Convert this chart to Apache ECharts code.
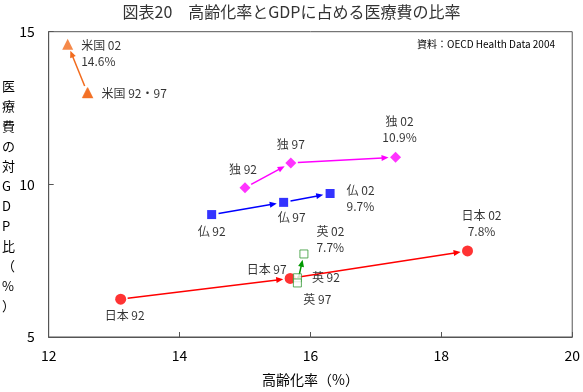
<!DOCTYPE html>
<html><head><meta charset="utf-8">
<script src="https://cdn.jsdelivr.net/npm/echarts@6/dist/echarts.min.js"></script>
<style>html,body{margin:0;padding:0;background:#fff}#c{width:583px;height:392px}</style>
</head><body><div id="c"></div>
<script>
// ---- data ----
const titleText = '図表20　高齢化率とGDPに占める医療費の比率';
const xName = '高齢化率（%）';
const yName = '医療費の対GDP比（%）';
const noteText = '資料：OECD Health Data 2004';
const xTicks = [12, 14, 16, 18, 20];
const yTicks = [5, 10, 15];
const years = ['92', '97', '02'];

const japanX = [13.10, 15.69, 18.40];
const japanY = [6.24, 6.92, 7.82];
const usX = [12.60, 12.59, 12.29];
const usY = [13.00, 13.01, 14.59];
const franceX = [14.49, 15.59, 16.30];
const franceY = [9.01, 9.41, 9.70];
const germanyX = [15.00, 15.70, 17.30];
const germanyY = [9.89, 10.70, 10.89];
const ukX = [15.80, 15.80, 15.90];
const ukY = [6.94, 6.77, 7.72];

const japanLabels = ['日本 92', '日本 97', '日本 02\n7.8%'];
const usLabels = ['米国 92・97', '', '米国 02\n14.6%'];
const franceLabels = ['仏 92', '仏 97', '仏 02\n9.7%'];
const germanyLabels = ['独 92', '独 97', '独 02\n10.9%'];
const ukLabels = ['英 92', '英 97', '英 02\n7.7%'];

// ---- helpers ----
function arrowSeries(xs, ys, color, gapStart, gapEnd) {
  const data = [];
  for (let i = 0; i < xs.length - 1; i++) data.push([xs[i], ys[i], xs[i + 1], ys[i + 1]]);
  return {
    type: 'custom', data, silent: true, z: 2,
    encode: { x: [0, 2], y: [1, 3] },
    renderItem(params, api) {
      const p1 = api.coord([api.value(0), api.value(1)]);
      const p2 = api.coord([api.value(2), api.value(3)]);
      const dx = p2[0] - p1[0], dy = p2[1] - p1[1];
      const len = Math.hypot(dx, dy);
      if (len < gapStart + gapEnd + 6) return { type: 'group', children: [] };
      const ux = dx / len, uy = dy / len;
      const s = [p1[0] + ux * gapStart, p1[1] + uy * gapStart];
      const e = [p2[0] - ux * gapEnd, p2[1] - uy * gapEnd];
      const L = 7, W = 3;
      const b = [e[0] - ux * L, e[1] - uy * L];
      return {
        type: 'group', children: [
          { type: 'line', shape: { x1: s[0], y1: s[1], x2: b[0] + ux, y2: b[1] + uy }, style: { stroke: color, lineWidth: 1.5 } },
          { type: 'polygon', shape: { points: [e, [b[0] - uy * W, b[1] + ux * W], [b[0] + uy * W, b[1] - ux * W]] }, style: { fill: color } }
        ]
      };
    }
  };
}

function pointSeries(xs, ys, texts, labelCfg, sym) {
  const data = xs.map((x, i) => ({
    value: [x, ys[i]],
    label: Object.assign({ show: texts[i] !== '', formatter: texts[i] }, labelCfg[i])
  }));
  return {
    type: 'scatter', data, z: 5,
    symbol: sym.symbol, symbolSize: sym.size,
    itemStyle: sym.itemStyle,
    label: { color: '#000', fontSize: 12, lineHeight: 16, fontFamily: '"Noto Sans CJK JP", sans-serif' }
  };
}

const series = [
  arrowSeries(japanX, japanY, '#ff0000', 7, 7),
  arrowSeries(usX, usY, '#f26b1d', 7, 7),
  arrowSeries(franceX, franceY, '#0000ff', 7, 7),
  arrowSeries(germanyX, germanyY, '#ff00ff', 7, 7),
  arrowSeries(ukX, ukY, '#009900', 5, 6),
  pointSeries(japanX, japanY, japanLabels, [
    { position: 'bottom', distance: 3, offset: [4, 0] },
    { position: 'left', distance: 0, offset: [2, -9] },
    { position: 'top', distance: 6, offset: [14, 0] }
  ], { symbol: 'circle', size: 11, itemStyle: { color: '#ff0000' } }),
  pointSeries(usX, usY, usLabels, [
    { position: 'right', distance: 8, offset: [0, 1] },
    {},
    { position: 'right', distance: 8, offset: [0, 9] }
  ], { symbol: 'triangle', size: 11, itemStyle: { color: '#f26b1d' } }),
  pointSeries(franceX, franceY, franceLabels, [
    { position: 'bottom', distance: 4, offset: [0, 0] },
    { position: 'bottom', distance: 3, offset: [8, 0] },
    { position: 'right', distance: 12, offset: [0, 5] }
  ], { symbol: 'rect', size: 9, itemStyle: { color: '#0000ff' } }),
  pointSeries(germanyX, germanyY, germanyLabels, [
    { position: 'top', distance: 5, offset: [-2, 0] },
    { position: 'top', distance: 5, offset: [0, 0] },
    { position: 'top', distance: 6, offset: [4, 0] }
  ], { symbol: 'diamond', size: 11, itemStyle: { color: '#ff00ff' } }),
  pointSeries(ukX, ukY, ukLabels, [
    { position: 'right', distance: 10, offset: [0, 0] },
    { position: 'bottom', distance: 4, offset: [20, 0] },
    { position: 'right', distance: 8, offset: [0, -15] }
  ], { symbol: 'rect', size: 8, itemStyle: { color: '#ffffff', borderColor: '#339933', borderWidth: 1 } })
];

const chart = echarts.init(document.getElementById('c'), null, { renderer: 'canvas' });
chart.setOption({
  animation: false,
  backgroundColor: '#fff',
  textStyle: { fontFamily: '"Noto Sans CJK JP", sans-serif' },
  title: {
    text: titleText, left: 'center', top: -1,
    textStyle: { fontSize: 16, fontWeight: 'normal', color: '#333' }
  },
  grid: { left: 48.7, right: 9.5, top: 31.7, bottom: 50.3, show: true, borderColor: '#555', borderWidth: 1, backgroundColor: 'transparent' },
  xAxis: {
    type: 'value', min: xTicks[0], max: xTicks[xTicks.length - 1], interval: xTicks[1] - xTicks[0],
    name: xName, nameLocation: 'middle', nameGap: 36,
    nameTextStyle: { fontSize: 14, color: '#000' },
    axisLine: { show: true, lineStyle: { color: '#555' } },
    axisTick: { show: true, inside: true, length: 5, lineStyle: { color: '#555' } },
    axisLabel: { fontSize: 14, color: '#000', margin: 12 },
    splitLine: { show: false }
  },
  yAxis: {
    type: 'value', min: yTicks[0], max: yTicks[yTicks.length - 1], interval: yTicks[1] - yTicks[0],
    axisLine: { show: true, lineStyle: { color: '#555' } },
    axisTick: { show: true, inside: true, length: 5, lineStyle: { color: '#555' } },
    axisLabel: { fontSize: 14, color: '#000', margin: 14 },
    splitLine: { show: false }
  },
  graphic: [
    {
      type: 'text', left: 2, top: 'middle',
      style: { text: yName.split('').join('\n'), fontSize: 13, lineHeight: 20, fill: '#000', align: 'center',
               fontFamily: '"Noto Sans CJK JP", sans-serif' }
    },
    {
      type: 'text', right: 28, top: 39,
      style: { text: noteText, fontSize: 10, fill: '#000', fontFamily: '"Noto Sans CJK JP", sans-serif' }
    }
  ],
  series
});
</script>
</body></html>
